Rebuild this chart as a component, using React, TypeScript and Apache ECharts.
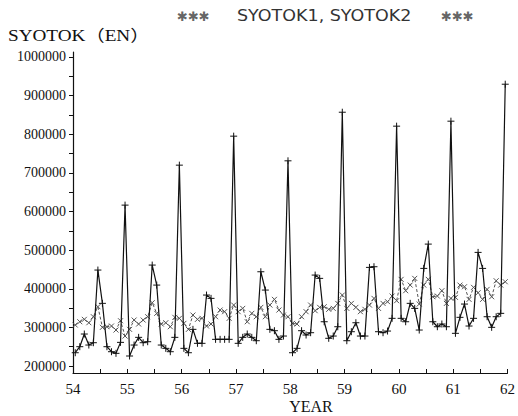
import React, { useEffect, useRef } from "react";
import * as echarts from "echarts";

const START_YEAR = 54;
const YEAR_LABELS = [54, 55, 56, 57, 58, 59, 60, 61, 62];
const Y_LABELS = [200000, 300000, 400000, 500000, 600000, 700000, 800000, 900000, 1000000];

// monthly values, Jan 54 .. Dec 61
const syotok1 = [
  234400, 250000, 282800, 254300, 260300, 448400, 362200, 250000, 237000, 232800, 261200, 616500,
  225900, 254300, 274200, 260300, 262900, 461300, 409500, 254300, 245700, 237000, 274200, 720000,
  245700, 234400, 294900, 258700, 258700, 383700, 375100, 269000, 269000, 269000, 269000, 795000,
  258700, 274200, 282800, 274200, 265500, 444000, 396600, 294900, 291400, 269000, 277600, 731200,
  234400, 245700, 291400, 280200, 286200, 435400, 426900, 314600, 271700, 277600, 301700, 857000,
  265500, 288800, 312000, 277600, 277600, 455300, 457000, 288800, 286200, 290500, 323400, 820900,
  323400, 314600, 362200, 349200, 293100, 452700, 515600, 314600, 301700, 308700, 301700, 833800,
  284600, 326000, 360400, 303500, 323400, 494100, 452700, 327600, 300100, 327600, 336300, 929500,
];

const syotok2 = [
  306100, 314600, 320800, 312000, 327600, 353500, 300100, 301700, 303500, 293100, 317200, 277600,
  294900, 319000, 308700, 319000, 327600, 363800, 336300, 308700, 312000, 301700, 326000, 323400,
  310400, 294900, 331900, 320800, 323400, 303500, 308700, 327600, 344900, 340600, 323400, 357800,
  340600, 349200, 314600, 336300, 327600, 351800, 327600, 357800, 372500, 344900, 331900, 327600,
  310400, 308700, 327600, 340600, 357800, 343200, 351800, 353500, 346700, 349200, 362100, 383700,
  349200, 362100, 351800, 340600, 346700, 357800, 375100, 349200, 362100, 366400, 381100, 369000,
  424300, 394900, 409500, 426900, 360400, 409500, 424300, 379300, 381100, 394900, 362100, 375100,
  377700, 409500, 405200, 372500, 403600, 389600, 372500, 398400, 379300, 420700, 409500, 418100,
];

const toPoints = (arr: number[]) => arr.map((v, i) => [START_YEAR + (i + 0.5) / 12, v]);

const SERIF = "Liberation Serif";

export default function App() {
  const ref = useRef<HTMLDivElement>(null);
  useEffect(() => {
    if (!ref.current) return;
    const chart = echarts.init(ref.current, undefined, { renderer: "svg" });
    const yTicks: number[] = [];
    for (let v = 200000; v <= 1000000; v += 50000) yTicks.push(v);
    const xTicks: number[] = [];
    for (let v = 54; v <= 62; v += 0.5) xTicks.push(v);
    chart.setOption({
      animation: false,
      backgroundColor: "#fff",
      textStyle: { fontFamily: SERIF },
      grid: { left: 73, right: 6, top: 52, bottom: 43, containLabel: false },
      xAxis: {
        type: "value",
        min: 54,
        max: 62,
        axisLine: { lineStyle: { color: "#111", width: 1.2 } },
        axisTick: { inside: true, length: 4, customValues: xTicks, lineStyle: { color: "#111" } },
        axisLabel: {
          customValues: YEAR_LABELS,
          margin: 8,
          color: "#111",
          fontFamily: SERIF,
          fontSize: 15,
          formatter: (v: number) => String(Math.round(v)),
        },
        splitLine: { show: false },
      },
      yAxis: {
        type: "value",
        min: 181900,
        max: 1012900,
        axisLine: { show: true, lineStyle: { color: "#111", width: 1.2 } },
        axisTick: { show: true, length: 4, customValues: yTicks, lineStyle: { color: "#111" } },
        axisLabel: {
          customValues: Y_LABELS,
          margin: 7,
          color: "#111",
          fontFamily: SERIF,
          fontSize: 14,
          formatter: (v: number) => String(Math.round(v)),
        },
        splitLine: { show: false },
      },
      graphic: [
        {
          type: "text",
          x: 177,
          y: 16,
          style: { text: "✱✱✱", fontFamily: "DejaVu Sans", fontSize: 13, fill: "#666", textVerticalAlign: "middle" },
        },
        {
          type: "text",
          x: 237,
          y: 16,
          scaleX: 1.13,
          style: { text: "SYOTOK1, SYOTOK2", fontFamily: "DejaVu Sans", fontSize: 15.5, fill: "#333", textVerticalAlign: "middle" },
        },
        {
          type: "text",
          x: 441,
          y: 16,
          style: { text: "✱✱✱", fontFamily: "DejaVu Sans", fontSize: 13, fill: "#666", textVerticalAlign: "middle" },
        },
        {
          type: "text",
          x: 8,
          y: 36,
          scaleX: 1.2,
          style: { text: "SYOTOK（EN）", fontFamily: "Liberation Serif, Noto Sans CJK JP", fontSize: 16, fill: "#111", textVerticalAlign: "middle" },
        },
        {
          type: "text",
          x: 311,
          y: 406,
          style: { text: "YEAR", fontFamily: SERIF, fontSize: 16, fill: "#111", textAlign: "center", textVerticalAlign: "middle" },
        },
      ],
      series: [
        {
          name: "SYOTOK2",
          type: "line",
          data: toPoints(syotok2),
          symbol: "path://M0,0L10,10M10,0L0,10",
          symbolSize: 5,
          showSymbol: true,
          lineStyle: { color: "#555", width: 1, type: [3, 2] },
          itemStyle: { color: "rgba(0,0,0,0)", borderColor: "#555", borderWidth: 1 },
          z: 2,
        },
        {
          name: "SYOTOK1",
          type: "line",
          data: toPoints(syotok1),
          symbol: "path://M5,0L5,10M0,5L10,5",
          symbolSize: 7,
          showSymbol: true,
          lineStyle: { color: "#111", width: 1.2 },
          itemStyle: { color: "rgba(0,0,0,0)", borderColor: "#111", borderWidth: 1 },
          z: 3,
        },
      ],
    });
    return () => chart.dispose();
  }, []);
  return (
    <div
      ref={ref}
      style={{ position: "fixed", left: 0, top: 0, width: 518, height: 416 }}
    />
  );
}
